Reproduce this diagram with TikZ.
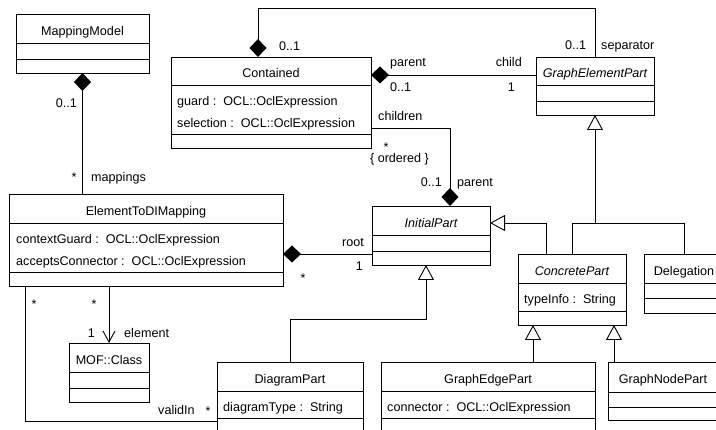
\documentclass[tikz,border=0pt]{standalone}
\usepackage{fontspec}
\setmainfont{Liberation Sans}
\usetikzlibrary{arrows.meta}

% class box: name, x1, y1, x2, y2, compartment dividers
\newcommand\umlclass[6]{%
  \pgfmathsetmacro\uw{#4-#2}\pgfmathsetmacro\uh{#5-#3}%
  \node[classbox, anchor=north west, minimum width=\uw pt, minimum height=\uh pt] (#1) at (#2,#3) {};
  \foreach \d in {#6} \draw[line] (#2,\d) -- (#4,\d);
}
% attribute text "name :  type"
\newcommand\attrtext[2]{#1 :\ \ #2}

\begin{document}
\frenchspacing
\begin{tikzpicture}[x=1pt,y=-1pt,
  line/.style={line width=0.9pt},
  classbox/.style={draw, line width=0.9pt, inner sep=0pt, outer sep=0pt, rectangle},
  txt/.style={inner sep=0pt, font=\fontsize{12.6}{15}\selectfont},
  ttl/.style={txt, anchor=base},
  absttl/.style={ttl, font=\fontsize{12.6}{15}\selectfont\itshape},
  attr/.style={txt, anchor=base west},
  lbl/.style={txt, anchor=base west},
  lblr/.style={txt, anchor=base east},
  mult/.style={txt, anchor=base},
  comp/.style={line, {Diamond[length=18pt,width=17pt,fill=black]}-},
  gen/.style={line, -{Triangle[open,length=15pt,width=16pt,fill=white]}},
  nav/.style={line, -{Straight Barb[length=11pt,width=12pt]}},
]
\useasboundingbox (0,0) rectangle (716,430);
\clip (0,0) rectangle (716,430);

% classes
\umlclass{mm}{16}{14}{149}{73}{43,59}
\umlclass{cont}{171}{57}{371}{148}{85,134}
\umlclass{gep}{536}{57}{654}{115}{85,101}
\umlclass{etdm}{9}{194}{283}{286}{223,272}
\umlclass{ip}{372}{206}{490}{265}{235,251}
\umlclass{cp}{518}{254}{626}{325}{283,311}
\umlclass{del}{644}{254}{724}{313}{283,298}
\umlclass{mof}{69}{343}{149}{402}{372,388}
\umlclass{dp}{217}{362}{363}{440}{391,418}
\umlclass{gedge}{381}{362}{595}{440}{391,418}
\umlclass{gnode}{608}{362}{718}{420}{392,407}

% class names
\node[ttl] (mmT) at (82.5,35.5) {MappingModel};
\node[ttl] (contT) at (271,78) {Contained};
\node[absttl] (gepT) at (595,78) {GraphElementPart};
\node[ttl] (etdmT) at (146,215.5) {ElementToDIMapping};
\node[absttl] (ipT) at (431,227.5) {InitialPart};
\node[absttl] (cpT) at (572,275.5) {ConcretePart};
\node[ttl] (delT) at (684,275.5) {Delegation};
\node[ttl] (mofT) at (109,364.5) {MOF::Class};
\node[ttl] (dpT) at (290,383.5) {DiagramPart};
\node[ttl] (gedgeT) at (488,383.5) {GraphEdgePart};
\node[ttl] (gnodeT) at (663,384) {GraphNodePart};

% attributes
\node[attr] (contA1) at (177,106) {\attrtext{guard}{OCL::OclExpression}};
\node[attr] (contA2) at (177,128) {\attrtext{selection}{OCL::OclExpression}};
\node[attr] (etdmA1) at (16,244) {\attrtext{contextGuard}{OCL::OclExpression}};
\node[attr] (etdmA2) at (16,266) {\attrtext{acceptsConnector}{OCL::OclExpression}};
\node[attr] (cpA1) at (524,304) {\attrtext{typeInfo}{String}};
\node[attr] (dpA1) at (223,412) {\attrtext{diagramType}{String}};
\node[attr] (gedgeA1) at (387,412) {\attrtext{connector}{OCL::OclExpression}};

% helper coordinates for connector routing
\coordinate (ysep) at (0,8);
\coordinate (ypc) at (0,75);
\coordinate (ych) at (0,128);
\coordinate (ygen) at (0,223);
\coordinate (yroot) at (0,254);
\coordinate (ydp) at (0,319);
\coordinate (yval) at (0,421);
\coordinate (xval) at (25,0);
\coordinate (csep) at ([xshift=-13pt]cont.north);
\coordinate (ipc) at ([xshift=19pt]ip.north);
\coordinate (ipb) at ([xshift=-5pt]ip.south);
\coordinate (cpl) at ([xshift=-26pt]cp.north);
\coordinate (cpe) at ([xshift=-39pt]cp.south);
\coordinate (cpn) at ([xshift=42pt]cp.south);

% associations
\draw[comp] (mm.south) -- (mm.south |- etdm.north);
\draw[comp] (csep) |- (ysep -| gep.north) -- (gep.north);
\draw[comp] (cont.east |- ypc) -- (gep.west |- ypc);
\draw[comp] (ipc) |- (cont.east |- ych);
\draw[comp] (etdm.east |- yroot) -- (ip.west |- yroot);
\draw[nav] (mof.north |- etdm.south) -- (mof.north);
\draw[line] (xval |- etdm.south) |- (dp.west |- yval);

% generalizations
\draw[gen] (cp.north) |- (ygen -| gep.south) -- (gep.south);
\draw[line] (del.north) |- (ygen -| gep.south);
\draw[gen] (cpl) |- (ip.east |- ygen);
\draw[gen] (dp.north) |- (ipb |- ydp) -- (ipb);
\draw[gen] (cpe |- gedge.north) -- (cpe);
\draw[gen] (cpn |- gnode.north) -- (cpn);

% role names and multiplicities
\node[lblr] (m1) at (77,108) {0..1};
\node[mult] (m2) at (74,182) {*};
\node[lbl] (r1) at (91,182) {mappings};
\node[lbl] (m3) at (279,51) {0..1};
\node[lbl] (m4) at (565,50) {0..1};
\node[lbl] (r2) at (601,50) {separator};
\node[lbl] (r3) at (390,67) {parent};
\node[lblr] (r4) at (522,67) {child};
\node[lbl] (m5) at (390,92) {0..1};
\node[lblr] (m6) at (515,92) {1};
\node[lbl] (r5) at (378,121) {children};
\node[mult] (m7) at (386,151.5) {*};
\node[mult] (c1) at (399.5,163) {\{ ordered \}};
\node[lblr] (m8) at (442,187) {0..1};
\node[lbl] (r6) at (457,187) {parent};
\node[lblr] (r7) at (364,247) {root};
\node[lblr] (m9) at (363,271) {1};
\node[mult] (m10) at (303,283) {*};
\node[mult] (m11) at (34,309) {*};
\node[mult] (m12) at (94,309) {*};
\node[lblr] (m13) at (95,337.5) {1};
\node[lbl] (r8) at (124,337.5) {element};
\node[lbl] (r9) at (158,415) {validIn};
\node[mult] (m14) at (208,415.5) {*};
\end{tikzpicture}
\end{document}
